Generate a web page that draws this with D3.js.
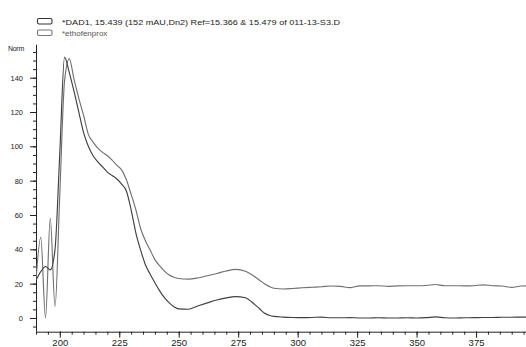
<!DOCTYPE html>
<html>
<head>
<meta charset="utf-8">
<script src="https://cdn.jsdelivr.net/npm/d3@7"></script>
<style>
  body { margin: 0; background: #fff; }
  svg { display: block; font-family: "Liberation Sans", Arial, sans-serif; }
  .axis path, .axis line { stroke: #222; stroke-width: 1; }
  .line { fill: none; stroke-width: 1.15; }
</style>
</head>
<body>
<svg></svg>
<script>
// wavelength (nm) shared by both spectra
var wavelengths = [190,192,194,196,198,200,202,204,206,208,210,212,214,216,218,220,222,224,226,228,
    230,232,234,236,238,240,242,244,246,248,250,254,258,262,266,270,274,278,282,284,286,288,290,
    294,298,302,306,310,314,318,322,326,330,334,338,342,346,350,354,358,362,366,370,374,378,382,386,390,394,398];

var dad1_values = [22,27,30,28,40,96,152,143,132,120,108,100,94.5,91,88,85,83,81,78,74,
    63,49.5,39.5,31,25.5,20.5,15.8,11.8,8.8,6.6,5.3,5.1,7.0,8.8,10.5,11.7,12.4,11.8,7.8,5.4,2.9,1.6,0.9,
    0.5,0.3,0.2,0.3,0.5,0.1,0.1,0.2,0,0,0.1,0,0,0.1,0,0.2,0.6,0.1,0,0.1,0.2,0.3,0.3,0.4,0.4,0.5,0.4];

var etho_values = [22,47,0,58,6.6,72,138,151,139,128,118,107,102.5,99,96.5,94.5,92,89,86.3,80.5,
    72,63,52,45,39.6,34,30.3,27.3,25,23.7,23,22.6,23.3,24.6,25.9,27.4,28.3,27.2,24,22,20,18.4,17.3,
    16.9,17.2,17.6,17.9,18.2,18.6,18.4,17.7,18.7,18.7,18.8,18.4,18.7,18.8,18.8,18.9,19.5,18.8,18.8,18.7,18.8,19.3,18.8,18.6,17.8,18.6,18.7];

var x_major_ticks = [200,225,250,275,300,325,350,375,400];
var y_major_ticks = [0,20,40,60,80,100,120,140];

var legend_labels = ["*DAD1, 15.439 (152 mAU,Dn2) Ref=15.366 & 15.479 of 011-13-S3.D", "*ethofenprox"];
var legend_colors = ["#333333", "#777777"];
var line_colors = ["#404040", "#707070"];

function draw_spectra() {

    var width = 526, height = 347;
    var left = 36, bottom = 331.7, top = 46.8;

    var x = d3.scaleLinear().domain([190, 400]).range([left, 535.5]);
    var y = d3.scaleLinear().domain([-8, 158]).range([bottom, top]);

    var svg = d3.select('svg')
        .attr("width", width)
        .attr("height", height);

    svg.append("defs").append("clipPath")
        .attr("id", "plot-clip")
        .append("rect")
        .attr("x", left)
        .attr("y", 30)
        .attr("width", width - left)
        .attr("height", bottom - 30);

    // x axis: minor ticks then major ticks with labels
    svg.append("g")
        .attr("class", "axis")
        .attr("transform", "translate(0," + bottom + ")")
        .call(d3.axisBottom(x).tickValues(d3.range(190, 401, 5)).tickSize(3).tickFormat(""))
        .call(function(g) { g.select(".domain").remove(); });

    svg.append("g")
        .attr("class", "axis")
        .attr("transform", "translate(0," + bottom + ")")
        .call(d3.axisBottom(x).tickValues(x_major_ticks).tickSize(6).tickSizeOuter(0).tickPadding(2))
        .call(function(g) {
            g.select(".domain").attr("d", "M" + left + ",0.5H" + width);
            g.selectAll("text").style("font-size", "9.5px").attr("fill", "#222");
        });

    // y axis
    svg.append("g")
        .attr("class", "axis")
        .attr("transform", "translate(" + left + ",0)")
        .call(d3.axisLeft(y).tickValues(d3.range(-5, 156, 5)).tickSize(3).tickFormat(""))
        .call(function(g) { g.select(".domain").remove(); });

    svg.append("g")
        .attr("class", "axis")
        .attr("transform", "translate(" + left + ",0)")
        .call(d3.axisLeft(y).tickValues(y_major_ticks).tickSize(6).tickSizeOuter(0).tickPadding(7))
        .call(function(g) {
            g.select(".domain").attr("d", "M0.5," + (top - 2) + "V" + bottom);
            g.selectAll("text").style("font-size", "7.5px").attr("fill", "#222");
        });

    svg.append("text")
        .attr("x", 8)
        .attr("y", 51)
        .style("font-size", "7px")
        .style("letter-spacing", "-0.3px")
        .attr("fill", "#222")
        .text("Norm");

    // spectra
    var series = [dad1_values, etho_values];

    var line = d3.line()
        .x(function(d, i) { return x(wavelengths[i]); })
        .y(function(d) { return y(d); })
        .curve(d3.curveMonotoneX);

    var plot = svg.append("g").attr("clip-path", "url(#plot-clip)");

    series.slice().reverse().forEach(function(values, k) {
        var idx = series.length - 1 - k;
        plot.append("path")
            .attr("class", "line")
            .style("stroke", line_colors[idx])
            .attr("d", line(values));
    });

    // legend
    var legend = svg.append("g");
    legend_labels.forEach(function(label, i) {
        legend.append("rect")
            .attr("x", 37.5)
            .attr("y", 18.5 + i * 11.5)
            .attr("width", 14.5)
            .attr("height", 5.5)
            .attr("rx", 1.5)
            .attr("fill", "#fff")
            .attr("stroke", legend_colors[i])
            .attr("stroke-width", 1.1);
        var t = legend.append("text")
            .attr("x", 62)
            .attr("y", 24.5 + i * 11.5)
            .style("font-size", "8px")
            .attr("fill", i === 0 ? "#222" : "#555")
            .text(label);
        if (i === 0) t.attr("textLength", 278).attr("lengthAdjust", "spacingAndGlyphs");
    });
}

draw_spectra();
</script>
</body>
</html>
